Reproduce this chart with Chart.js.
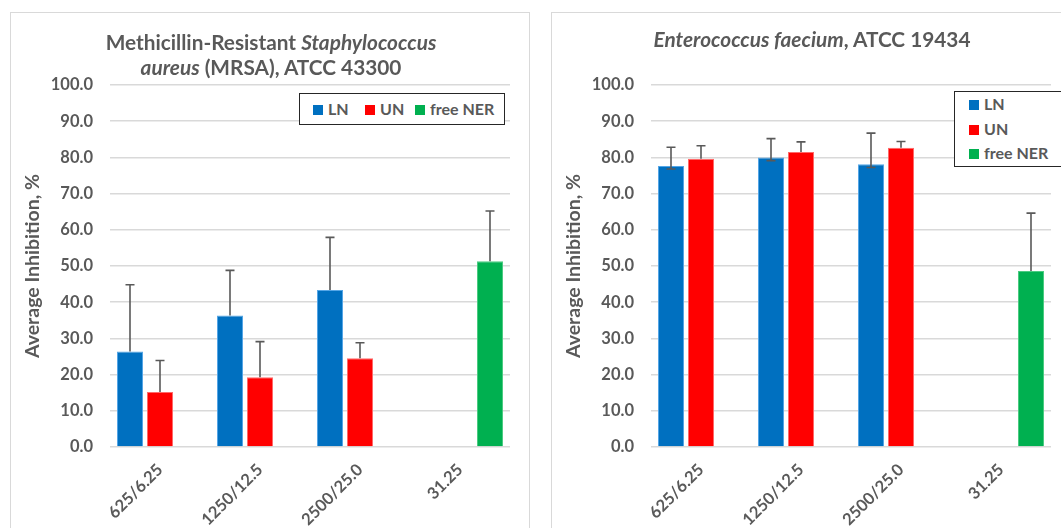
<!DOCTYPE html>
<html><head><meta charset="utf-8">
<script src="https://cdn.jsdelivr.net/npm/chart.js@4.4.1/dist/chart.umd.min.js"></script>
<style>
html,body{margin:0;padding:0;width:1061px;height:528px;overflow:hidden;background:#fff;font-family:Lato,sans-serif;}
.panel{position:absolute;top:0;width:541px;height:528px;overflow:hidden;}
.frame{position:absolute;left:10px;top:12px;width:520px;height:560px;border:1.5px solid #D9D9D9;box-sizing:border-box;}
.cv{position:absolute;left:0;top:0;}
.title{position:absolute;left:10px;width:522px;text-align:center;color:#595959;font-weight:bold;font-size:20.8px;line-height:25px;white-space:nowrap;}
.legend{position:absolute;border:1.5px solid #262626;background:#fff;box-sizing:border-box;}
.li{position:absolute;color:#595959;font-weight:bold;font-size:16px;line-height:18px;white-space:nowrap;}
.sw{display:inline-block;width:10px;height:10px;margin-right:5px;vertical-align:0px;}
</style></head>
<body>
<div class="panel" id="p0" style="left:0px"><div class="frame"></div><canvas class="cv" id="c0" width="541" height="528"></canvas></div>
<div class="panel" id="p1" style="left:541px"><div class="frame"></div><canvas class="cv" id="c1" width="541" height="528"></canvas></div>
<script>
// ---- data ----
const categories = ['625/6.25', '1250/12.5', '2500/25.0', '31.25'];
const seriesNames = ['LN', 'UN', 'free NER'];
const seriesColors = ['#0070C0', '#FF0000', '#00B050'];
const seriesEdges = ['#55A6E6', '#FF6A6A', '#4CCB82'];
const yTickValues = [0, 10, 20, 30, 40, 50, 60, 70, 80, 90, 100];

// MRSA, ATCC 43300
const mrsaLN = [26.4, 36.3, 43.4, null];
const mrsaUN = [15.2, 19.3, 24.5, null];
const mrsaNER = [null, null, null, 51.3];
const mrsaLNErrUp = [18.4, 12.5, 14.5, 0];
const mrsaUNErrUp = [8.7, 9.8, 4.3, 0];
const mrsaNERErrUp = [0, 0, 0, 13.9];
const mrsaLNErrDown = [0, 0, 0, 0];
const mrsaUNErrDown = [0, 0, 0, 0];
const mrsaNERErrDown = [0, 0, 0, 0];

// Enterococcus faecium, ATCC 19434
const efLN = [77.6, 80.0, 78.1, null];
const efUN = [79.6, 81.5, 82.7, null];
const efNER = [null, null, null, 48.6];
const efLNErrUp = [5.2, 5.2, 8.6, 0];
const efUNErrUp = [3.6, 2.8, 1.7, 0];
const efNERErrUp = [0, 0, 0, 16.0];
const efLNErrDown = [0.8, 0.9, 0.9, 0];
const efUNErrDown = [0, 0, 0, 0];
const efNERErrDown = [0, 0, 0, 0];

const titles = [
  ['Methicillin-Resistant <i>Staphylococcus</i>', '<i>aureus</i> (MRSA), ATCC 43300'],
  ['<i>Enterococcus faecium</i>, ATCC 19434']
];
const yTitle = 'Average Inhibition, %';

// ---- helpers ----
const TXT = '#595959';
Chart.defaults.font.family = 'Lato, sans-serif';

const errorBars = {
  id: 'errorBars',
  afterDatasetsDraw(chart) {
    const ctx = chart.ctx, ys = chart.scales.y;
    ctx.save();
    ctx.strokeStyle = '#595959';
    ctx.lineWidth = 1.6;
    chart.data.datasets.forEach((ds, i) => {
      const meta = chart.getDatasetMeta(i);
      meta.data.forEach((el, j) => {
        const v = ds.data[j];
        if (v === null || v === undefined) return;
        const up = ds.errUp[j] || 0, dn = ds.errDown[j] || 0;
        if (!up && !dn) return;
        const x = el.x;
        const yt = ys.getPixelForValue(v + up);
        const yb = ys.getPixelForValue(v - dn);
        ctx.beginPath();
        ctx.moveTo(x, yb); ctx.lineTo(x, yt);
        if (up) { ctx.moveTo(x - 4.5, yt); ctx.lineTo(x + 4.5, yt); }
        if (dn) { ctx.moveTo(x - 4.5, yb); ctx.lineTo(x + 4.5, yb); }
        ctx.stroke();
      });
    });
    ctx.restore();
  }
};

function makeChart(id, values, errUp, errDown) {
  const datasets = seriesNames.map((n, k) => ({
    label: n, data: values[k], errUp: errUp[k], errDown: errDown[k],
    backgroundColor: seriesColors[k], borderColor: seriesEdges[k], borderWidth: 1,
    barPercentage: 0.867, categoryPercentage: 0.9
  }));
  return new Chart(document.getElementById(id), {
    type: 'bar',
    data: { labels: categories, datasets },
    plugins: [errorBars],
    options: {
      responsive: false, animation: false, events: [],
      layout: { padding: { left: 0, right: 31, top: 85, bottom: 0 } },
      plugins: { legend: { display: false }, tooltip: { enabled: false } },
      scales: {
        x: {
          grid: { display: false }, border: { display: false },
          ticks: { color: TXT, font: { size: 16.5, weight: 'bold' }, maxRotation: 45, minRotation: 45, autoSkip: false, padding: 5 },
          afterFit(s) { s.height = 81; }
        },
        y: {
          min: 0, max: 100,
          grid: { color: '#D9D9D9', lineWidth: 1.5, drawTicks: false },
          border: { display: false },
          afterBuildTicks(s) { s.ticks = yTickValues.map(v => ({ value: v })); },
          ticks: { color: TXT, font: { size: 16.5, weight: 'bold' }, padding: 17, callback: v => Number(v).toFixed(1) },
          title: { display: true, text: yTitle, color: TXT, font: { size: 19.5, weight: 'bold' }, padding: { top: 21, bottom: 0 } },
          afterFit(s) { s.width = 110; }
        }
      }
    }
  });
}

makeChart('c0', [mrsaLN, mrsaUN, mrsaNER], [mrsaLNErrUp, mrsaUNErrUp, mrsaNERErrUp], [mrsaLNErrDown, mrsaUNErrDown, mrsaNERErrDown]);
makeChart('c1', [efLN, efUN, efNER], [efLNErrUp, efUNErrUp, efNERErrUp], [efLNErrDown, efUNErrDown, efNERErrDown]);

// titles
function addTitle(panelId, lines, tops) {
  const p = document.getElementById(panelId);
  lines.forEach((t, i) => {
    const d = document.createElement('div');
    d.className = 'title'; d.style.top = tops[i] + 'px'; d.innerHTML = t;
    p.appendChild(d);
  });
}
addTitle('p0', titles[0], [29, 54]);
addTitle('p1', titles[1], [26]);

// legends
function addLegend(panelId, box, items) {
  const p = document.getElementById(panelId);
  const lg = document.createElement('div');
  lg.className = 'legend';
  Object.assign(lg.style, { left: box[0] + 'px', top: box[1] + 'px', width: box[2] + 'px', height: box[3] + 'px' });
  seriesNames.forEach((n, k) => {
    const it = document.createElement('div');
    it.className = 'li';
    it.style.left = items[k][0] + 'px'; it.style.top = items[k][1] + 'px';
    it.innerHTML = '<span class="sw" style="background:' + seriesColors[k] + '"></span>' + n;
    lg.appendChild(it);
  });
  p.appendChild(lg);
}
addLegend('p0', [299, 93, 206, 32], [[13, 6], [65, 6], [115, 6]]);
addLegend('p1', [413, 91, 120, 76], [[14, 3], [14, 28], [14, 52]]);
</script>
</body></html>
